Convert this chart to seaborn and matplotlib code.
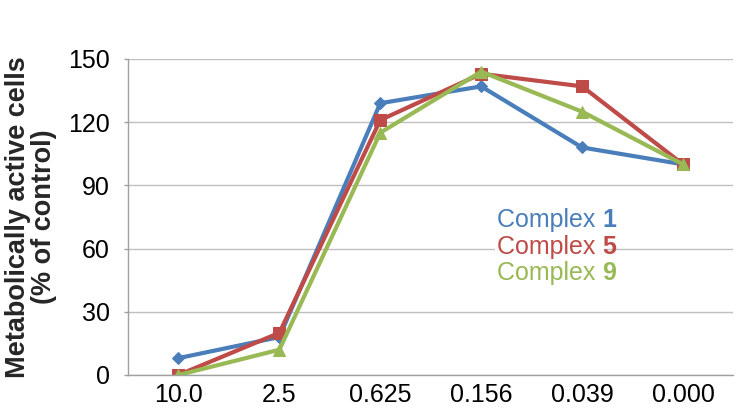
import matplotlib
matplotlib.use("Agg")
import matplotlib.pyplot as plt
import pandas as pd
import seaborn as sns

# concentration categories (x axis)
concentrations = ["10.0", "2.5", "0.625", "0.156", "0.039", "0.000"]

# % of control
complex1 = [8, 18, 129, 137, 108, 100]
complex5 = [0, 20, 121, 143, 137, 100]
complex9 = [0, 12, 115, 144, 125, 100]

series_names = ["1", "5", "9"]
colors = ["#4A7EBB", "#BE4B48", "#98B954"]
markers = ["D", "s", "^"]
marker_sizes = [6, 8, 9]

rows = []
for name, vals in zip(series_names, [complex1, complex5, complex9]):
    for c, v in zip(concentrations, vals):
        rows.append({"conc": c, "value": v, "complex": name})
df = pd.DataFrame(rows)

sns.set_theme(style="white")
plt.rcParams["font.family"] = ["Liberation Sans", "DejaVu Sans"]

fig = plt.figure(figsize=(7.55, 4.08), dpi=100)
ax = fig.add_axes([0.1695, 0.0809, 0.8020, 0.7745])

for name, col, mk, ms in zip(series_names, colors, markers, marker_sizes):
    sub = df[df["complex"] == name]
    sns.lineplot(
        data=sub, x="conc", y="value", ax=ax, color=col, linewidth=3,
        marker=mk, markersize=ms, markeredgecolor=col, sort=False, legend=False,
    )

ax.set_xlim(-0.5, len(concentrations) - 0.5)
ax.set_ylim(0, 150)
ax.set_yticks([0, 30, 60, 90, 120, 150])
ax.yaxis.grid(True, color="#BFBFBF", linewidth=1)
ax.set_axisbelow(True)
ax.tick_params(axis="both", labelsize=18)
ax.tick_params(axis="y", length=3, color="#A0A0A0", width=1, direction="out",
               left=True, pad=10)
ax.tick_params(axis="x", length=0, pad=6)
for lbl in ax.get_xticklabels() + ax.get_yticklabels():
    lbl.set_color("black")

for s in ["top", "right"]:
    ax.spines[s].set_visible(False)
for s in ["left", "bottom"]:
    ax.spines[s].set_color("#A0A0A0")
    ax.spines[s].set_linewidth(1)

ax.set_xlabel("")
ax.set_ylabel("Metabolically active cells\n(% of control)", fontsize=19.5,
              fontweight="bold", linespacing=1.0, labelpad=8)

# legend as coloured text, digit in bold
ypos = [0.468, 0.383, 0.300]
for name, col, yy in zip(series_names, colors, ypos):
    t = ax.text(0.609, yy, "Complex ", transform=ax.transAxes, fontsize=18,
                color=col, va="baseline", ha="left",
                bbox=dict(facecolor="white", edgecolor="none", pad=1))
    ax.annotate(name, xycoords=t, xy=(1, 0), xytext=(0, 0),
                textcoords="offset points", fontsize=18, fontweight="bold",
                color=col, va="bottom", ha="left")

fig.savefig("out.png", dpi=100)
